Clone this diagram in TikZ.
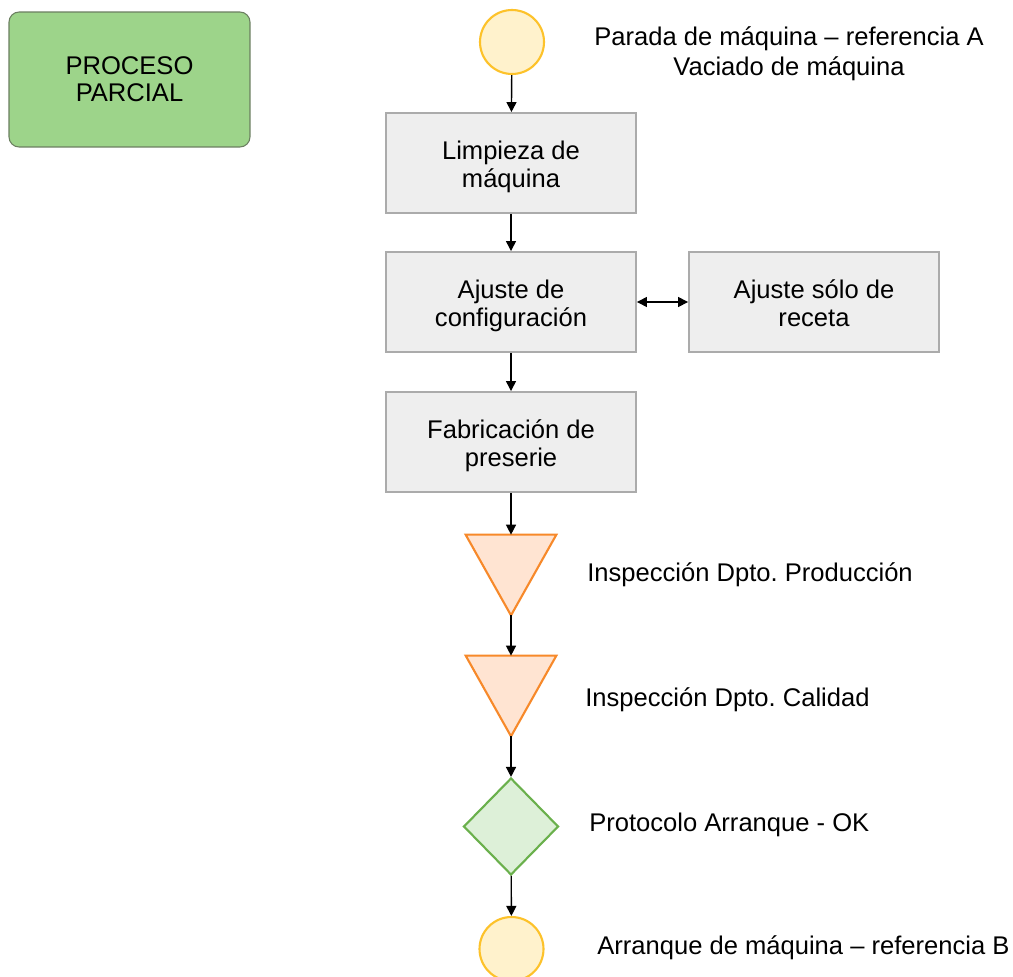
\documentclass[tikz,border=0pt]{standalone}
\usepackage{fontspec}
\setmainfont{Liberation Sans}
\usetikzlibrary{shapes.geometric,arrows.meta}
\frenchspacing

\definecolor{groupfill}{HTML}{9DD48A}
\definecolor{groupline}{HTML}{6B7F60}
\definecolor{boxfill}{HTML}{EEEEEE}
\definecolor{boxline}{HTML}{ABABAB}
\definecolor{termfill}{HTML}{FFF2CC}
\definecolor{termline}{HTML}{FDC22A}
\definecolor{inspfill}{HTML}{FFE4D2}
\definecolor{inspline}{HTML}{F7892A}
\definecolor{okfill}{HTML}{DDF0D8}
\definecolor{okline}{HTML}{6AB04C}

\tikzset{
  txt/.style={font=\fontsize{14.55pt}{16pt}\selectfont, align=center},
  groupbox/.style={txt, draw=groupline, line width=0.6pt, fill=groupfill,
    rounded corners=0.2cm, minimum width=4.82cm, minimum height=2.7cm,
    font=\fontsize{14.55pt}{15.4pt}\selectfont},
  stepbox/.style={txt, draw=boxline, line width=1.1pt, fill=boxfill,
    minimum width=5cm, minimum height=2cm, inner sep=0pt,
    text height=30.5pt, text depth=3pt},
  terminal/.style={circle, draw=termline, line width=1.2pt, fill=termfill,
    minimum size=1.28cm, inner sep=0pt},
  trishape/.style={draw=inspline, line width=1.2pt, fill=inspfill, line join=miter},
  triframe/.style={inner sep=0pt, minimum width=1.8cm, minimum height=1.6cm},
  check/.style={diamond, draw=okline, line width=1.2pt, fill=okfill,
    inner sep=0pt, minimum width=1.9cm, minimum height=1.94cm},
  label/.style={txt, inner sep=0pt},
  flow/.style={line width=0.8pt, -{Triangle[length=0.2cm,width=0.2cm]}},
  both/.style={line width=0.8pt, {Triangle[length=0.2cm,width=0.2cm]}-{Triangle[length=0.2cm,width=0.2cm]}},
}

\begin{document}
\begin{tikzpicture}[x=0.02cm, y=-0.02cm]
  \clip (0,0) rectangle (1013,976);
  \fill[white] (0,0) rectangle (1013,976);

  % group title
  \node[groupbox] (grp) at (129.5,79.5) {PROCESO\\PARCIAL};

  % main flow
  \node[terminal] (start) at (512,42) {};
  \node[label] (startlbl) at (789,54) {Parada de máquina – referencia A\\[1pt]Vaciado de máquina};

  \node[stepbox] (clean) at (511,163) {Limpieza de\\máquina};
  \node[stepbox] (config) at (511,302) {Ajuste de\\configuración};
  \node[stepbox] (recipe) at (814,302) {Ajuste sólo de\\receta};
  \node[stepbox] (pre) at (511,442) {Fabricación de\\preserie};

  % inspection triangles (frame nodes carry the anchors)
  \node[triframe] (insp1) at (511,575) {};
  \draw[trishape] (insp1.north west) -- (insp1.north east) -- (insp1.south) -- cycle;
  \node[label, anchor=west] (insp1lbl) at (587,575) {Inspección Dpto. Producción};

  \node[triframe] (insp2) at (511,696) {};
  \draw[trishape] (insp2.north west) -- (insp2.north east) -- (insp2.south) -- cycle;
  \node[label, anchor=west] (insp2lbl) at (585,700) {Inspección Dpto. Calidad};

  \node[check] (ok) at (511,826.5) {};
  \node[label, anchor=west] (oklbl) at (589,825) {Protocolo Arranque - OK};

  \node[terminal] (stop) at (511.5,949) {};
  \node[label, anchor=west] (stoplbl) at (597,948) {Arranque de máquina – referencia B};

  % connectors
  \draw[flow] (start) -- (clean);
  \draw[flow] (clean) -- (config);
  \draw[both] (config) -- (recipe);
  \draw[flow] (config) -- (pre);
  \draw[flow] (pre) -- (insp1.north);
  \draw[flow] (insp1.south) -- (insp2.north);
  \draw[flow] (insp2.south) -- (ok);
  \draw[flow] (ok) -- (stop);
\end{tikzpicture}
\end{document}
